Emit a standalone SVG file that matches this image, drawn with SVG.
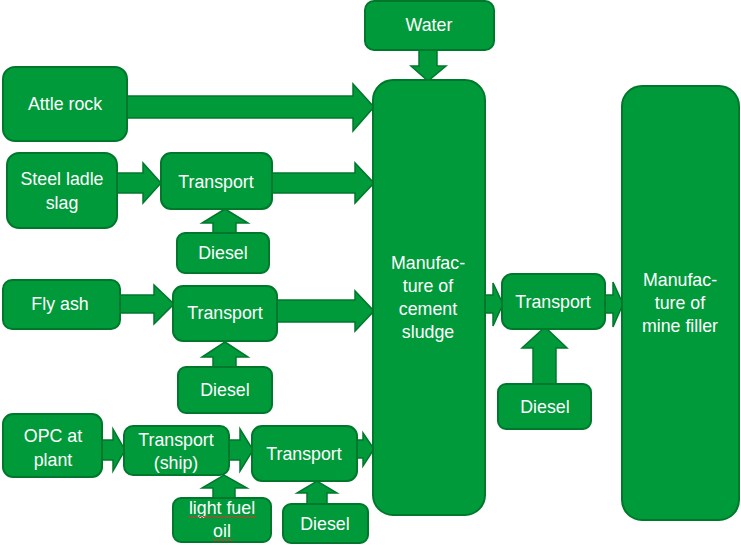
<svg xmlns="http://www.w3.org/2000/svg" width="741" height="545" viewBox="0 0 741 545">
<style>
.box{fill:#009a3a;stroke:#00782c;stroke-width:2}
.arr{fill:#009a3a;stroke:#00782c;stroke-width:1.5;stroke-linejoin:miter}
text{font-family:"Liberation Sans",Arial,sans-serif;font-size:17.8px;fill:#ffffff;text-anchor:middle;dominant-baseline:central}
.sq{fill:none;stroke:#e03030;stroke-width:1}
</style>
<rect width="741" height="545" fill="#ffffff"/>
<g id="connectors">
<polygon class="arr" points="126,96 353,96 353,84 374,107 353,131 353,118 126,118"/>
<polygon class="arr" points="116,173 143,173 143,163 161,183 143,203 143,193 116,193"/>
<polygon class="arr" points="271,173 355,173 355,163 374,183 355,203 355,193 271,193"/>
<polygon class="arr" points="213,234 213,223 202,223 225,209 248,223 236,223 236,234"/>
<polygon class="arr" points="119,295 154,295 154,285 174,304 154,324 154,313 119,313"/>
<polygon class="arr" points="276,300 355,300 355,291 374,311 355,331 355,322 276,322"/>
<polygon class="arr" points="213,368 213,357 202,357 225,342 248,357 236,357 236,368"/>
<polygon class="arr" points="101,440 113,440 113,429 125,450 113,471 113,460 101,460"/>
<polygon class="arr" points="228,440 240,440 240,429 253,450 240,471 240,460 228,460"/>
<polygon class="arr" points="356,440 363,440 363,433 374,449 363,466 363,458 356,458"/>
<polygon class="arr" points="213,499 213,488 202,488 224,475 247,488 235,488 235,499"/>
<polygon class="arr" points="307,505 307,493 297,493 317,481 337,493 327,493 327,505"/>
<polygon class="arr" points="419,49 437,49 437,66 446,66 428,81 411,66 419,66"/>
<polygon class="arr" points="484,295 493,295 493,283 503,304 493,326 493,313 484,313"/>
<polygon class="arr" points="604,295 613,295 613,282 623,304 613,327 613,313 604,313"/>
<polygon class="arr" points="533,384 533,348 522,348 545,327 567,348 556,348 556,384"/>
</g>
<g id="water"><rect class="box" x="365" y="1" width="129" height="49" rx="9"/><text x="429" y="25">Water</text></g>
<g id="cement"><rect class="box" x="373" y="80" width="112" height="435" rx="20"/>
<text x="428" y="263">Manufac-</text><text x="428" y="286">ture of</text><text x="428" y="309">cement</text><text x="428" y="332">sludge</text></g>
<g id="mine"><rect class="box" x="622" y="86" width="117" height="434" rx="20"/>
<text x="680" y="280">Manufac-</text><text x="680" y="303">ture of</text><text x="680" y="326">mine filler</text></g>
<g id="attle"><rect class="box" x="3" y="67" width="124" height="74" rx="12"/><text x="65" y="104">Attle rock</text></g>
<g id="steel"><rect class="box" x="7" y="153" width="110" height="75" rx="12"/><text x="62" y="179">Steel ladle</text><text x="62" y="203">slag</text></g>
<g id="transport1"><rect class="box" x="161" y="153" width="111" height="56" rx="10"/><text x="216" y="182">Transport</text></g>
<g id="diesel1"><rect class="box" x="177" y="233" width="92" height="40" rx="8"/><text x="223" y="253">Diesel</text></g>
<g id="flyash"><rect class="box" x="3" y="280" width="117" height="49" rx="9"/><text x="60" y="304">Fly ash</text></g>
<g id="transport2"><rect class="box" x="173" y="286" width="104" height="55" rx="10"/><text x="225" y="313">Transport</text></g>
<g id="diesel2"><rect class="box" x="178" y="367" width="94" height="46" rx="8"/><text x="225" y="390">Diesel</text></g>
<g id="opc"><rect class="box" x="3" y="414" width="99" height="63" rx="10"/><text x="53" y="436">OPC at</text><text x="53" y="460">plant</text></g>
<g id="ship"><rect class="box" x="124" y="426" width="105" height="49" rx="9"/><text x="176" y="440">Transport</text><text x="176" y="463">(ship)</text></g>
<g id="transport3"><rect class="box" x="252" y="426" width="105" height="55" rx="10"/><text x="304" y="454">Transport</text></g>
<g id="lfo"><rect class="box" x="173" y="498" width="98" height="44" rx="8"/><text x="222" y="508">light fuel</text><text x="222" y="531">oil</text>
<path class="sq" d="M188,516 l2,2 l2,-2 l2,2 l2,-2 l2,2 l2,-2 l2,2 l2,-2 l2,2 l2,-2 l2,2 l2,-2 l2,2 l2,-2 l2,2 l2,-2 l2,2 l2,-2 l2,2 l2,-2 l2,2 l2,-2 l2,2 l2,-2 l2,2 l2,-2 l2,2 l2,-2 l2,2 l2,-2 l2,2 l2,-2 l2,2 l2,-2"/>
<path class="sq" d="M213,539 l2,2 l2,-2 l2,2 l2,-2 l2,2 l2,-2 l2,2 l2,-2 l2,2 l2,-2"/></g>
<g id="diesel3"><rect class="box" x="283" y="504" width="85" height="39" rx="8"/><text x="325" y="524">Diesel</text></g>
<g id="transport4"><rect class="box" x="502" y="274" width="103" height="55" rx="10"/><text x="553" y="302">Transport</text></g>
<g id="diesel4"><rect class="box" x="498" y="384" width="93" height="45" rx="8"/><text x="545" y="407">Diesel</text></g>
</svg>
